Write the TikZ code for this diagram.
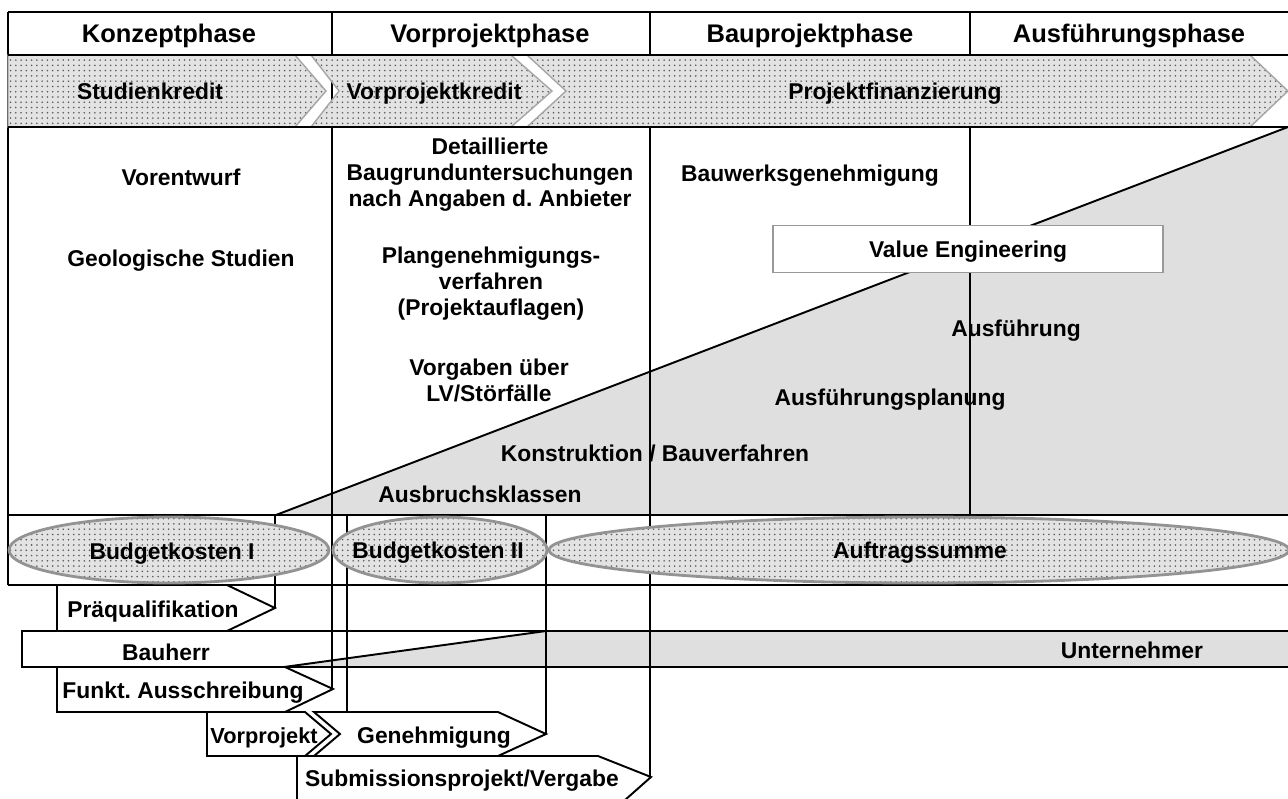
\documentclass[tikz,border=0pt]{standalone}
\usepackage{fontspec}
\setmainfont{Liberation Sans}
\usepackage{tikz}
\usetikzlibrary{patterns}
\frenchspacing

\begin{document}
\begin{tikzpicture}[x=0.02cm, y=-0.02cm,
rule/.style={line width=1.1pt},
head/.style={font=\bfseries\fontsize{14.5}{17}\selectfont, inner sep=0pt,
text height=10.4pt, text depth=0pt},
lbl/.style={font=\bfseries\fontsize{13}{14.8}\selectfont, align=center, inner sep=0pt},
one/.style={lbl, text height=9.3pt, text depth=0pt},
dotarea/.style={preaction={fill=gray!22}, pattern=dots, pattern color=black!65},
credit/.style={dotarea, draw=gray!70, line width=0.8pt},
budget/.style={dotarea, draw=gray!85, line width=1.6pt},
vebox/.style={draw=gray!80, fill=white, line width=0.8pt, minimum width=7.8cm,
minimum height=0.94cm, text height=9.3pt, text depth=0pt,
font=\bfseries\fontsize{13}{14.8}\selectfont},
bar/.style={draw, fill=white, line width=1.1pt}
]
\useasboundingbox (0,0) rectangle (1288,798);

% grey areas below the diagonals
\fill[gray!25] (276,515) -- (1288,127) -- (1288,515) -- cycle;
\fill[white] (22,631) rectangle (1288,667);
\fill[gray!25] (284,667) -- (546,631) -- (1288,631) -- (1288,667) -- cycle;
\draw[rule] (22,631) rectangle (1290,667);
\draw[rule] (284,667) -- (546,631);

% steps below the table
\draw[bar] (57,585) -- (227,585) -- (275,608) -- (227,631) -- (57,631) -- cycle;
\draw[bar] (57,667) -- (285,667) -- (333,689) -- (285,712) -- (57,712) -- cycle;
\draw[bar] (207,712) -- (305,712) -- (331,734) -- (305,756) -- (207,756) -- cycle;
\draw[bar] (314,712) -- (498,712) -- (546,734) -- (498,756) -- (314,756) -- (340,734) -- cycle;
\draw[bar] (297,800) -- (297,756) -- (598,756) -- (651,777) -- (625,800);

% table
\draw[rule] (8,12) -- (8,585);
\draw[rule] (332,12) -- (332,689);
\draw[rule] (650,12) -- (650,777);
\draw[rule] (970,12) -- (970,515);
\draw[rule] (275,515) -- (275,608);
\draw[rule] (347,515) -- (347,712);
\draw[rule] (546,515) -- (546,734);
\draw[rule] (276,515) -- (1288,127);

% financing band
\draw[credit] (8,55) -- (295,55) -- (326,91) -- (295,127) -- (8,127) -- cycle;
\draw[credit] (311,55) -- (511,55) -- (552,91) -- (511,127) -- (311,127) -- (339,91) -- cycle;
\draw[credit] (527,55) -- (1250,55) -- (1288,91) -- (1250,127) -- (527,127) -- (566,91) -- cycle;

\draw[rule] (8,12) -- (1288,12);
\draw[rule] (8,55) -- (1288,55);
\draw[rule] (8,127) -- (1288,127);
\draw[rule] (8,515) -- (1288,515);
\draw[rule] (8,585) -- (1288,585);

% budget ellipses
\draw[budget] (169,550) ellipse [x radius=3.2cm, y radius=0.66cm];
\draw[budget] (440,550) ellipse [x radius=2.14cm, y radius=0.66cm];
\draw[budget] (919,550) ellipse [x radius=7.4cm, y radius=0.66cm];

% phases
\node[head] (konzept) at (169,33) {Konzeptphase};
\node[head] (vorprojekt) at (490,33) {Vorprojektphase};
\node[head] (bauprojekt) at (810,33) {Bauprojektphase};
\node[head] (ausfuehrung) at (1129,33) {Ausführungsphase};

\node[one] (studien) at (150,91) {Studienkredit};
\node[one] (vpkredit) at (434,91) {Vorprojektkredit};
\node[one] (finanz) at (895,91) {Projektfinanzierung};

% contents
\node[one] (entwurf) at (181,177) {Vorentwurf};
\node[one] (geologie) at (181,258) {Geologische Studien};
\node[lbl] (baugrund) at (490,175) {Detaillierte\\Baugrunduntersuchungen\\nach Angaben d. Anbieter};
\node[lbl] (plan) at (491,284) {Plangenehmigungs-\\verfahren\\(Projektauflagen)};
\node[lbl] (vorgaben) at (489,380) {Vorgaben über\\LV/Störfälle};
\node[one] (konstr) at (655,453) {Konstruktion / Bauverfahren};
\node[one] (ausbruch) at (480,494) {Ausbruchsklassen};
\node[one] (bauwerk) at (810,173) {Bauwerksgenehmigung};
\node[vebox] (ve) at (968,249) {Value Engineering};
\node[one] (ausf) at (1016,328) {Ausführung};
\node[one] (ausfplan) at (890,397) {Ausführungsplanung};

\node[one] (bk1text) at (172,551) {Budgetkosten I};
\node[one] (bk2text) at (438,550) {Budgetkosten II};
\node[one] (auftrag) at (920,550) {Auftragssumme};

% steps
\node[one] (praequal) at (153,609) {Präqualifikation};
\node[one] (bauherr) at (166,652) {Bauherr};
\node[one] (unternehmer) at (1132,650) {Unternehmer};
\node[one] (funkt) at (183,690) {Funkt. Ausschreibung};
\node[one, font=\bfseries\fontsize{12.4}{14}\selectfont] (vp) at (264,735) {Vorprojekt};
\node[one] (genehm) at (434,735) {Genehmigung};
\node[one] (submission) at (462,778) {Submissionsprojekt/Vergabe};

\end{tikzpicture}
\end{document}
